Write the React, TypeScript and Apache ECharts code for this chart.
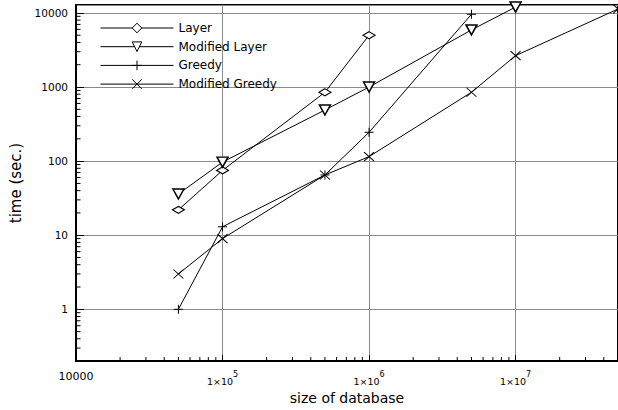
import React, { useEffect, useRef } from "react";
import * as echarts from "echarts";

const seriesNames = ["Layer", "Modified Layer", "Greedy", "Modified Greedy"];

const layerX = [5e4, 1e5, 5e5, 1e6];
const layerY = [22, 75, 850, 5000];

const modLayerX = [5e4, 1e5, 5e5, 1e6, 5e6, 1e7];
const modLayerY = [36, 97, 490, 1000, 5900, 12000];

const greedyX = [5e4, 1e5, 5e5, 1e6, 5e6];
const greedyY = [1, 13, 65, 245, 9600];

const modGreedyX = [5e4, 1e5, 5e5, 1e6, 5e6, 1e7, 5e7];
const modGreedyY = [3, 9, 65, 115, 850, 2650, 11300];

const xMin = 1e4;
const xMax = 5e7;
const yMin = 0.2;
const yMax = 12800;

const minorX: number[] = [];
for (let n = 4; n <= 7; n++) {
  for (let k = 2; k <= 9; k++) {
    const v = k * Math.pow(10, n);
    if (v < xMax) minorX.push(v);
  }
}
const minorY: number[] = [];
for (let n = -1; n <= 4; n++) {
  for (let k = 2; k <= 9; k++) {
    const v = k * Math.pow(10, n);
    if (v > yMin && v < yMax) minorY.push(v);
  }
}

const zip = (xs: number[], ys: number[]) => xs.map((x, i) => [x, ys[i]]);

const FONT = "DejaVu Sans";

const isPow10 = (v: number) => {
  const l = Math.log10(v);
  return Math.abs(l - Math.round(l)) < 1e-6;
};

export default function App() {
  const ref = useRef<HTMLDivElement>(null);
  useEffect(() => {
    if (!ref.current) return;
    const chart = echarts.init(ref.current, null, { renderer: "svg" });
    const lineBase = {
      type: "line" as const,
      lineStyle: { color: "#000", width: 1 },
      itemStyle: { color: "#fff", borderColor: "#000", borderWidth: 1.2 },
      symbolKeepAspect: false,
      z: 3,
    };
    chart.setOption({
      animation: false,
      backgroundColor: "#fff",
      textStyle: { fontFamily: FONT },
      grid: {
        left: 76,
        top: 5,
        width: 544,
        height: 359,
        show: true,
        borderColor: "#000",
        borderWidth: 2,
        containLabel: false,
      },
      legend: {
        data: seriesNames,
        orient: "vertical",
        left: 95,
        top: 17,
        itemWidth: 73,
        itemHeight: 12,
        itemGap: 6.7,
        lineStyle: { width: 1, color: "#000" },
        itemStyle: { borderWidth: 1 },
        textStyle: { fontFamily: FONT, fontSize: 12, color: "#000" },
        inactiveColor: "#ccc",
      },
      xAxis: {
        type: "log",
        logBase: 10,
        min: xMin,
        max: xMax,
        splitNumber: 3,
        name: "size of database",
        nameLocation: "middle",
        nameGap: 26,
        nameTextStyle: { fontFamily: FONT, fontSize: 14, color: "#000" },
        axisLine: { show: true, lineStyle: { color: "#000", width: 2 } },
        axisTick: { show: true, inside: true, length: 6, lineStyle: { color: "#000", width: 1 } },
        minorTick: { show: false },
        splitLine: { show: true, lineStyle: { color: "#8a8a8a", width: 1 } },
        axisLabel: {
          margin: 9,
          color: "#000",
          fontFamily: FONT,
          fontSize: 11,
          showMaxLabel: false,
          formatter: (v: number) => {
            if (!isPow10(v)) return "";
            const e = Math.round(Math.log10(v));
            if (e === 4) return "{p|10000}";
            return "{b|1×10}{s|" + e + "}";
          },
          rich: {
            p: { fontFamily: FONT, fontSize: 11, color: "#000", lineHeight: 12 },
            b: { fontFamily: FONT, fontSize: 9.5, color: "#000", verticalAlign: "bottom", lineHeight: 16 },
            s: { fontFamily: FONT, fontSize: 8, color: "#000", verticalAlign: "top", lineHeight: 16 },
          },
        },
      },
      yAxis: {
        type: "log",
        logBase: 10,
        min: yMin,
        max: yMax,
        splitNumber: 4,
        name: "time (sec.)",
        nameLocation: "middle",
        nameGap: 46,
        nameTextStyle: { fontFamily: FONT, fontSize: 15, color: "#000" },
        axisLine: { show: true, lineStyle: { color: "#000", width: 2 } },
        axisTick: { show: true, inside: true, length: 8, lineStyle: { color: "#000", width: 1 } },
        minorTick: { show: false },
        splitLine: { show: true, lineStyle: { color: "#8a8a8a", width: 1 } },
        axisLabel: {
          margin: 8,
          color: "#000",
          fontFamily: FONT,
          fontSize: 10.5,
          showMinLabel: false,
          showMaxLabel: false,
          formatter: (v: number) => (isPow10(v) ? String(Math.round(v * 1000) / 1000) : ""),
        },
      },
      series: [
        {
          ...lineBase,
          name: seriesNames[0],
          data: zip(layerX, layerY),
          symbol: "diamond",
          symbolSize: [12, 7],
        },
        {
          ...lineBase,
          name: seriesNames[1],
          data: zip(modLayerX, modLayerY),
          symbol: "triangle",
          symbolRotate: 180,
          symbolSize: [11, 10],
          itemStyle: { color: "#fff", borderColor: "#000", borderWidth: 1.5 },
        },
        {
          ...lineBase,
          name: seriesNames[2],
          data: zip(greedyX, greedyY),
          symbol: "path://M0,5L10,5M5,0L5,10",
          symbolSize: 9,
          itemStyle: { color: "#000", borderColor: "#000", borderWidth: 1 },
        },
        {
          ...lineBase,
          name: seriesNames[3],
          data: zip(modGreedyX, modGreedyY),
          symbol: "path://M0,0L10,10M10,0L0,10",
          symbolSize: [10, 9],
          itemStyle: { color: "#000", borderColor: "#000", borderWidth: 1 },
        },
        {
          type: "custom",
          name: "xminor",
          silent: true,
          z: 4,
          data: minorX.map((v) => [v, 1]),
          renderItem: (params: any, api: any) => {
            const cs = params.coordSys;
            const x = api.coord([api.value(0), 1])[0];
            const yb = cs.y + cs.height;
            return {
              type: "line",
              shape: { x1: x, y1: yb, x2: x, y2: yb - 4 },
              style: { stroke: "#000", lineWidth: 1 },
            };
          },
        },
        {
          type: "custom",
          name: "yminor",
          silent: true,
          z: 4,
          data: minorY.map((v) => [1e5, v]),
          renderItem: (params: any, api: any) => {
            const cs = params.coordSys;
            const y = api.coord([1e5, api.value(1)])[1];
            return {
              type: "line",
              shape: { x1: cs.x, y1: y, x2: cs.x + 4.5, y2: y },
              style: { stroke: "#000", lineWidth: 1 },
            };
          },
        },
      ],
    });
    return () => chart.dispose();
  }, []);
  return (
    <div
      ref={ref}
      style={{ position: "absolute", left: 0, top: 0, width: 618, height: 410 }}
    />
  );
}
